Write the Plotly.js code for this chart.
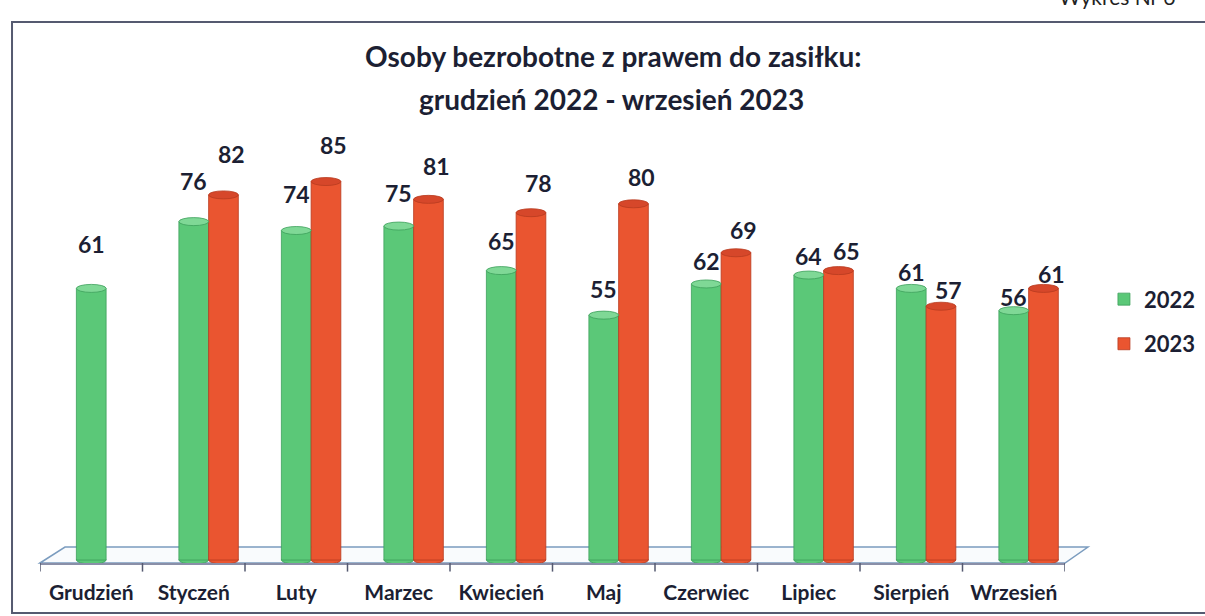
<!DOCTYPE html>
<html>
<head>
<meta charset="utf-8">
<script src="https://cdn.plot.ly/plotly-3.0.1.min.js"></script>
<style>
  html, body { margin: 0; padding: 0; background: #ffffff; }
  #chart { width: 1205px; height: 616px; }
</style>
</head>
<body>
<div id="chart"></div>
<script>
// ---- data ----
const months = ["Grudzień", "Styczeń", "Luty", "Marzec", "Kwiecień", "Maj", "Czerwiec", "Lipiec", "Sierpień", "Wrzesień"];
const values2022 = [61, 76, 74, 75, 65, 55, 62, 64, 61, 56];
const values2023 = [null, 82, 85, 81, 78, 80, 69, 65, 57, 61];
const seriesNames = ["2022", "2023"];
const titleLine1 = "Osoby bezrobotne z prawem do zasiłku:";
const titleLine2 = "grudzień 2022 - wrzesień 2023";
const cornerNote = "Wykres Nr 6";

// ---- styling ----
const FONT = "Lato, 'Open Sans', sans-serif";
const TXT = "#1c1f33";
const GREEN = "#5bc878", GREEN_LINE = "#3c9f5a", GREEN_CAP = "#7fd896";
const RED = "#ea5530", RED_LINE = "#b83b20", RED_CAP = "#d6472a";
const BW = 0.29;          // bar width in category units
const OFF_G = -BW / 2;    // green bar offset
const OFF_R = BW / 2;     // red bar offset

const xIdx = months.map((m, i) => i);

const traces = [
  {
    type: "bar", name: seriesNames[0], x: xIdx, y: values2022,
    width: BW, offset: OFF_G,
    marker: { color: GREEN, line: { color: GREEN_LINE, width: 0.8 } },
    legendgroup: "a", hoverinfo: "skip"
  },
  {
    type: "bar", name: seriesNames[1], x: xIdx, y: values2023,
    width: BW, offset: OFF_R,
    marker: { color: RED, line: { color: RED_LINE, width: 0.8 } },
    legendgroup: "b", hoverinfo: "skip"
  }
];

const shapes = [];
const annotations = [];

// floor (paper coordinates)
shapes.push({
  type: "path", xref: "paper", yref: "paper", layer: "below",
  path: "M 0 0 L 0.0244 0.037 L 1.0224 0.037 L 1 0 Z",
  line: { color: "#7b9cbf", width: 1.5 }, fillcolor: "rgba(240,245,250,0.4)"
});

// cylinder caps and bottoms, value labels
function addSeries(vals, off, bodyCol, lineCol, capCol, lblShiftX) {
  vals.forEach((v, i) => {
    if (v === null) return;
    const x0 = i + off, x1 = i + off + BW;
    shapes.push({
      type: "circle", xref: "x", yref: "y", layer: "below",
      x0: x0, x1: x1, ysizemode: "pixel", yanchor: 0, y0: -4, y1: 4,
      fillcolor: bodyCol, line: { color: lineCol, width: 0.8 }
    });
    shapes.push({
      type: "circle", xref: "x", yref: "y", layer: "above",
      x0: x0, x1: x1, ysizemode: "pixel", yanchor: v, y0: -4, y1: 4,
      fillcolor: capCol, line: { color: lineCol, width: 0.8 }
    });
    const lift = Math.max(10, 40 - 3.5 * i);
    annotations.push({
      xref: "x", yref: "y", x: (x0 + x1) / 2, y: v,
      text: String(v), showarrow: false,
      xanchor: "center", yanchor: "middle",
      xshift: lblShiftX, yshift: 4 + lift,
      font: { family: FONT, size: 23, color: TXT, weight: "bold" }
    });
  });
}
addSeries(values2022, OFF_G, GREEN, GREEN_LINE, GREEN_CAP, 0);
addSeries(values2023, OFF_R, RED, RED_LINE, RED_CAP, 8);

// outer frame
shapes.push({
  type: "rect", xref: "paper", yref: "paper", layer: "below",
  x0: -0.0273, x1: 1.1415, y0: -0.116, y1: 1.258,
  line: { color: "#555a70", width: 2 }, fillcolor: "rgba(0,0,0,0)"
});

// second title line
annotations.push({
  xref: "paper", yref: "paper", x: 0.5576, y: 1.079,
  xanchor: "center", yanchor: "middle", showarrow: false,
  text: titleLine2, font: { family: FONT, size: 28, color: TXT, weight: "bold" }
});

annotations.push({
  xref: "paper", yref: "paper", x: 0.992, y: 1.283,
  xanchor: "left", yanchor: "bottom", showarrow: false,
  text: cornerNote, font: { family: FONT, size: 21, color: "#222" }
});

// tick marks at category boundaries (drawn through axis scale)
const bounds = months.map((m, i) => i - 0.5).concat([months.length - 0.5]);
bounds.forEach(b => {
  shapes.push({
    type: "line", xref: "x", yref: "paper", layer: "above",
    x0: b, x1: b, y0: 0, y1: -0.02,
    line: { color: "#555a70", width: 1.5 }
  });
});

const layout = {
  width: 1205, height: 616,
  paper_bgcolor: "#ffffff", plot_bgcolor: "rgba(0,0,0,0)",
  margin: { l: 40, r: 140, t: 133, b: 53, pad: 0, autoexpand: false },
  barmode: "overlay",
  title: {
    text: titleLine1,
    font: { family: FONT, size: 28, color: TXT, weight: "bold" },
    xref: "container", x: 0.509, xanchor: "center",
    yref: "container", y: 1 - 57 / 616, yanchor: "middle"
  },
  xaxis: {
    type: "linear",
    range: [-0.5, 9.5],
    tickmode: "array",
    tickvals: xIdx, ticktext: months,
    showgrid: false, zeroline: false,
    showline: true, linecolor: "#8a8fa8", linewidth: 1.5,
    ticks: "", ticklabelstandoff: 10,
    tickfont: { family: FONT, size: 21, color: TXT, weight: "bold" },
    fixedrange: true
  },
  yaxis: {
    range: [-0.67, 95.9],
    visible: false, showgrid: false, zeroline: false, fixedrange: true
  },
  showlegend: true,
  legend: {
    x: 1.038, xanchor: "left", xref: "paper",
    y: 0.662, yanchor: "top", yref: "paper",
    orientation: "v", tracegroupgap: 13,
    font: { family: FONT, size: 22, color: TXT, weight: "bold" },
    bgcolor: "rgba(0,0,0,0)"
  },
  shapes: shapes,
  annotations: annotations
};

Plotly.newPlot("chart", traces, layout, { displayModeBar: false, staticPlot: true });
</script>
</body>
</html>
